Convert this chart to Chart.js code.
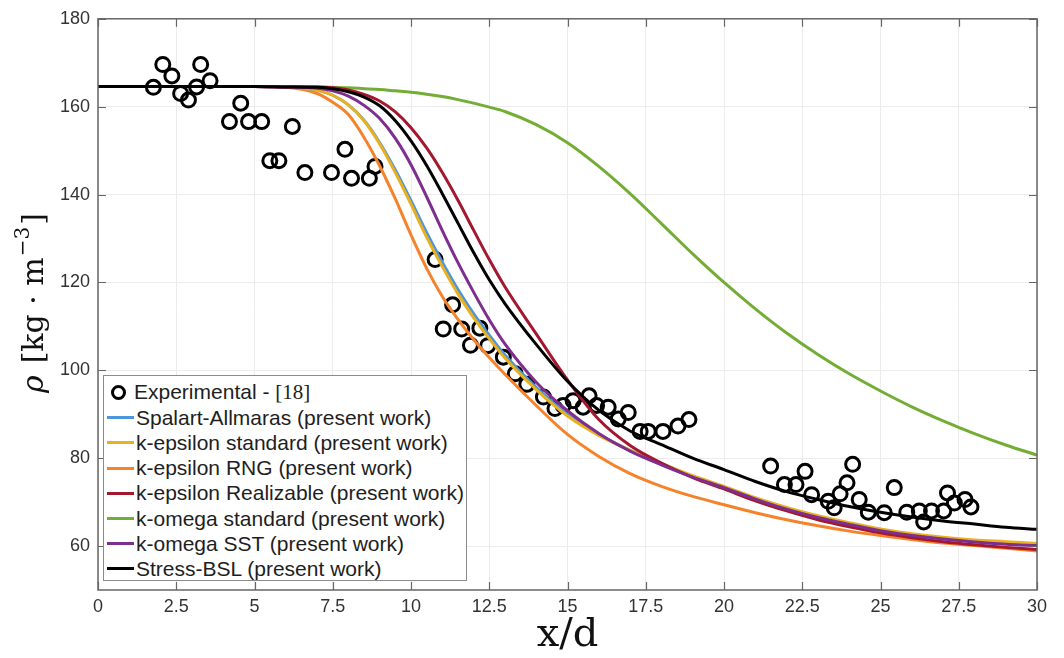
<!DOCTYPE html>
<html>
<head>
<meta charset="utf-8">
<script src="https://cdn.jsdelivr.net/npm/chart.js@4.4.1/dist/chart.umd.min.js"></script>
<style>
  body { margin: 0; background: #fff; }
  .wrap { position: relative; width: 1064px; height: 658px; }
  .legend {
    position: absolute; left: 103px; top: 375px; width: 364px; height: 206px;
    border: 1px solid #8c8c8c; background: #fff; box-sizing: border-box;
    font-family: "Liberation Sans", Arial, sans-serif; font-size: 21px; color: #1e1e1e;
    padding-top: 4px;
  }
  .legend .row { height: 25.2px; display: flex; align-items: center; white-space: nowrap; }
  .legend .swatch { width: 27px; height: 3px; margin-left: 3px; margin-right: 2px; }
  .legend .dot {
    width: 9px; height: 9px; border: 3px solid #000; border-radius: 50%;
    margin-left: 7px; margin-right: 8px;
  }
  .legend .ref { font-family: "Liberation Serif", serif; }
</style>
</head>
<body>
<div class="wrap">
  <canvas id="rhoChart" width="1064" height="658"></canvas>
  <div class="legend" id="legend"></div>
</div>
<script>
// experimental data
const expX = [1.77, 2.07, 2.36, 2.64, 2.89, 3.15, 3.28, 3.58, 4.2, 4.56, 4.81, 5.23, 5.49, 5.78, 6.21, 6.61,
  7.46, 7.89, 8.1, 8.67, 8.85, 10.77, 11.03, 11.33, 11.62, 11.9, 12.2, 12.45, 12.95, 13.33, 13.7, 14.23,
  14.6, 14.86, 15.18, 15.5, 15.69, 15.93, 16.3, 16.62, 16.94, 17.32, 17.58, 18.05, 18.53, 18.88,
  21.49, 21.93, 22.3, 22.59, 22.8, 23.33, 23.52, 23.71, 23.93, 24.11, 24.32, 24.61, 25.12, 25.44,
  25.84, 26.24, 26.38, 26.63, 27.02, 27.14, 27.36, 27.7, 27.89];
const expY = [164.4, 169.6, 167.0, 163.0, 161.5, 164.5, 169.6, 165.9, 156.6, 160.8, 156.6, 156.6, 147.7, 147.7, 155.5, 145.0,
  145.0, 150.3, 143.7, 143.7, 146.4, 125.2, 109.4, 114.9, 109.4, 105.7, 109.6, 105.6, 103.0, 99.2, 96.8, 93.9,
  91.3, 92.0, 93.1, 91.6, 94.2, 92.0, 91.6, 88.9, 90.4, 86.1, 86.1, 86.1, 87.3, 88.8,
  78.2, 74.0, 74.0, 77.0, 71.7, 70.2, 68.7, 71.9, 74.4, 78.6, 70.6, 67.7, 67.6, 73.3,
  67.7, 68.0, 65.5, 68.0, 68.0, 72.1, 69.8, 70.6, 68.9];

// simulation curves, all on the same x/d positions
const curveX = [0, 5, 6, 7, 7.5, 8, 8.5, 9, 9.5, 10, 10.5, 11, 11.5, 12, 12.5, 13, 14, 15, 16, 17, 18, 19, 20,
  21, 22, 23, 24, 25, 26, 27, 28, 29, 30];
const spalartAllmaras = [164.6, 164.6, 164.5, 163.8, 162.6, 160.4, 156.9, 151.8, 145.6, 138.6, 131.3, 124.6, 118.4, 112.9, 108, 103.5, 96.1, 90, 85.4, 81.8, 78.7, 75.8, 73.4,
  70.8, 68.6, 66.7, 65.1, 63.7, 62.6, 61.8, 61.2, 60.7, 60.3];
const kEpsStandard = [164.6, 164.6, 164.5, 163.8, 162.6, 160.4, 156.8, 151.5, 145, 137.8, 130.3, 123.6, 117.4, 112, 107.2, 102.8, 95.6, 89.6, 85.2, 81.8, 78.8, 76, 73.6,
  71, 68.8, 66.9, 65.3, 63.9, 62.8, 62, 61.4, 61, 60.6];
const kEpsRNG = [164.6, 164.6, 164.4, 163, 161, 158.2, 153, 146.5, 139, 130.8, 123.2, 116.8, 111.6, 107, 102.9, 99.1, 92, 85.4, 80.4, 76.5, 73.6, 71.3, 69.4,
  67.6, 66, 64.6, 63.4, 62.4, 61.5, 60.7, 60.1, 59.5, 58.9];
const kEpsRealizable = [164.6, 164.6, 164.5, 164.5, 164.3, 163.8, 162.8, 161.3, 158.8, 155.2, 150.6, 145, 138.7, 131.9, 125.2, 119, 108.3, 97.8, 88.8, 82.9, 78.9, 75.6, 73,
  70.3, 68, 66, 64.4, 63, 61.9, 61, 60.3, 59.7, 59.2];
const kOmegaStandard = [164.6, 164.6, 164.6, 164.5, 164.4, 164.3, 164.1, 163.9, 163.6, 163.3, 162.85, 162.3, 161.6, 160.8, 159.9, 158.9, 155.9, 151.8, 146.4, 140.2, 133.4, 126.5, 120,
  114, 108.5, 103.6, 99.2, 95.3, 91.7, 88.5, 85.6, 83, 80.7];
const kOmegaSST = [164.6, 164.6, 164.5, 164.2, 163.6, 162.4, 160.3, 157.3, 152.8, 146.8, 139.5, 131.8, 124.5, 117.8, 111.5, 106, 97.3, 90.8, 85.6, 81.6, 78.5, 75.7, 73.3,
  70.7, 68.4, 66.5, 64.9, 63.5, 62.4, 61.6, 60.9, 60.4, 60.1];
const stressBSL = [164.6, 164.6, 164.5, 164.4, 164.1, 163.4, 162.2, 160.2, 156.8, 152.2, 146.6, 140.2, 133.5, 126.8, 120.6, 115.2, 105.9, 97.5, 90.9, 86.2, 83.1, 80, 77.4,
  74.7, 72.4, 70.6, 69, 67.7, 66.6, 65.7, 65, 64.3, 63.8];

const xTicks = [0, 2.5, 5, 7.5, 10, 12.5, 15, 17.5, 20, 22.5, 25, 27.5, 30];
const yTicks = [60, 80, 100, 120, 140, 160, 180];

const expLabel = "Experimental - ";
const modelNames = ["Spalart-Allmaras (present work)", "k-epsilon standard (present work)", "k-epsilon RNG (present work)",
  "k-epsilon Realizable (present work)", "k-omega standard (present work)", "k-omega SST (present work)", "Stress-BSL (present work)"];
const modelSeries = [spalartAllmaras, kEpsStandard, kEpsRNG, kEpsRealizable, kOmegaStandard, kOmegaSST, stressBSL];
const modelColors = ["#4d95dc", "#e9b11f", "#f5832c", "#a3182f", "#74ad35", "#7d2e8e", "#000000"];
const drawOrder = [5, 4, 6, 3, 7, 2, 1];

const toPoints = (xs, ys) => xs.map((x, i) => ({ x: x, y: ys[i] }));

const datasets = modelSeries.map((ys, i) => ({
  label: modelNames[i],
  data: toPoints(curveX, ys),
  borderColor: modelColors[i],
  borderWidth: 3,
  pointRadius: 0,
  cubicInterpolationMode: "monotone",
  order: drawOrder[i],
}));

datasets.push({
  label: expLabel + "[18]",
  data: toPoints(expX, expY),
  showLine: false,
  pointRadius: 7,
  pointBorderWidth: 3,
  pointBorderColor: "#000",
  pointBackgroundColor: "rgba(0,0,0,0)",
  order: 10,
});

// box round the axes with MATLAB-style inward ticks, plus axis titles
const boxPlugin = {
  id: "box",
  afterDraw: (chart) => {
    const ctx = chart.ctx;
    const a = chart.chartArea;
    const xs = chart.scales.x;
    const ys = chart.scales.y;
    ctx.save();
    ctx.strokeStyle = "#666";
    ctx.lineWidth = 1.5;
    ctx.strokeRect(a.left, a.top, a.right - a.left, a.bottom - a.top);
    ctx.lineWidth = 1.2;
    ctx.beginPath();
    xTicks.forEach((v) => {
      const px = Math.round(xs.getPixelForValue(v)) + 0.5;
      ctx.moveTo(px, a.bottom); ctx.lineTo(px, a.bottom - 8);
      ctx.moveTo(px, a.top); ctx.lineTo(px, a.top + 8);
    });
    yTicks.forEach((v) => {
      const py = Math.round(ys.getPixelForValue(v)) + 0.5;
      ctx.moveTo(a.left, py); ctx.lineTo(a.left + 8, py);
      ctx.moveTo(a.right, py); ctx.lineTo(a.right - 8, py);
    });
    ctx.stroke();

    // x title
    ctx.fillStyle = "#111";
    ctx.font = '40px "DejaVu Serif"';
    ctx.textAlign = "center";
    ctx.textBaseline = "alphabetic";
    ctx.fillText("x/d", (a.left + a.right) / 2, 646);

    // y title, rotated
    ctx.translate(43, 393);
    ctx.rotate(-Math.PI / 2);
    ctx.textAlign = "left";
    let x = 0;
    ctx.font = 'italic 30px "DejaVu Serif"';
    ctx.fillText("ρ", x, 0);
    x += ctx.measureText("ρ").width + 12;
    ctx.font = '30px "DejaVu Serif"';
    ctx.fillText("[kg · m", x, 0);
    x += ctx.measureText("[kg · m").width + 1;
    ctx.font = '20px "DejaVu Serif"';
    ctx.fillText("−3", x, -14);
    x += ctx.measureText("−3").width + 2;
    ctx.font = '30px "DejaVu Serif"';
    ctx.fillText("]", x, 0);
    ctx.restore();
  },
};

const ctx = document.getElementById("rhoChart").getContext("2d");
const rhoChart = new Chart(ctx, {
  type: "line",
  data: { datasets: datasets },
  options: {
    responsive: false,
    animation: false,
    layout: { padding: { top: 17, right: 27, left: 0, bottom: 0 } },
    plugins: { legend: { display: false }, tooltip: { enabled: false } },
    scales: {
      x: {
        type: "linear",
        min: 0,
        max: 30,
        afterBuildTicks: (axis) => { axis.ticks = xTicks.map((v) => ({ value: v })); },
        afterFit: (scale) => { scale.height = 68; },
        ticks: {
          font: { family: '"Liberation Sans", Arial', size: 18 },
          color: "#333",
          padding: 6,
          callback: (v) => String(v),
        },
        grid: { color: "#ececec", lineWidth: 1, drawTicks: false },
        border: { display: false },
      },
      y: {
        min: 50,
        max: 180,
        afterBuildTicks: (axis) => { axis.ticks = yTicks.map((v) => ({ value: v })); },
        afterFit: (scale) => { scale.width = 98; },
        ticks: {
          font: { family: '"Liberation Sans", Arial', size: 18 },
          color: "#333",
          padding: 8,
        },
        grid: { color: "#ececec", lineWidth: 1, drawTicks: false },
        border: { display: false },
      },
    },
  },
  plugins: [boxPlugin],
});

// legend, built from the datasets
const legendBox = document.getElementById("legend");
const expRow = document.createElement("div");
expRow.className = "row";
expRow.innerHTML = '<span class="dot"></span><span>' + expLabel + '<span class="ref">[18]</span></span>';
legendBox.appendChild(expRow);
modelNames.forEach((name, i) => {
  const row = document.createElement("div");
  row.className = "row";
  row.innerHTML = '<span class="swatch" style="background:' + modelColors[i] + '"></span><span>' + name + "</span>";
  legendBox.appendChild(row);
});
</script>
</body>
</html>
